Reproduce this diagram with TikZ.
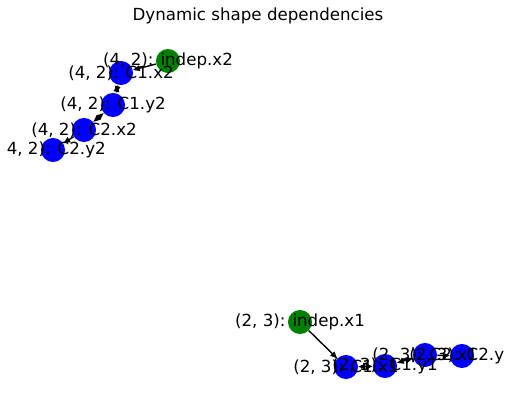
\documentclass[tikz,border=0pt]{standalone}
\usepackage{fontspec}
\setmainfont{DejaVu Sans}
\usetikzlibrary{arrows.meta}
\begin{document}
\begin{tikzpicture}[x=0.72pt,y=-0.72pt,
  vnode/.style={circle,minimum size=17.3pt,inner sep=0pt,fill=#1},
  lbl/.style={font=\fontsize{12}{14}\selectfont,inner sep=0pt,anchor=center},
  edge/.style={line width=1pt,-{Triangle[length=5pt,width=4pt]}},
  bedge/.style={line width=1pt,{Triangle[length=5pt,width=4pt]}-{Triangle[length=5pt,width=4pt]}},
]
\definecolor{mplgreen}{RGB}{0,128,0}
\definecolor{mplblue}{RGB}{0,0,255}
\useasboundingbox (0,0) rectangle (515,409);
\node[lbl] (title) at (258,16) {Dynamic shape dependencies};
\begin{scope}
\clip (7,28) rectangle (504,402);
% top cluster
\node[vnode=mplgreen] (i2) at (168,61) {};
\node[vnode=mplblue] (c1x2) at (121,73) {};
\node[vnode=mplblue] (c1y2) at (113,105) {};
\node[vnode=mplblue] (c2x2) at (84,130) {};
\node[vnode=mplblue] (c2y2) at (53,150) {};
% bottom cluster
\node[vnode=mplgreen] (i1) at (300,322) {};
\node[vnode=mplblue] (c1x1) at (346,367) {};
\node[vnode=mplblue] (c1y1) at (385,366) {};
\node[vnode=mplblue] (c2x1) at (425,355) {};
\node[vnode=mplblue] (c2y1) at (462,356) {};
% edges
\draw[edge] (i2) -- (c1x2);
\draw[bedge] (c1x2) -- (c1y2);
\draw[bedge] (c1y2) -- (c2x2);
\draw[edge] (c2x2) -- (c2y2);
\draw[edge] (i1) -- (c1x1);
\draw[bedge] (c1x1) -- (c1y1);
\draw[bedge] (c1y1) -- (c2x1);
\draw[edge] (c2x1) -- (c2y1);
% labels
\node[lbl] (li2) at (i2) {(4, 2): indep.x2};
\node[lbl] (lc1x2) at (c1x2) {(4, 2): C1.x2};
\node[lbl] (lc1y2) at (c1y2) {(4, 2): C1.y2};
\node[lbl] (lc2x2) at (c2x2) {(4, 2): C2.x2};
\node[lbl] (lc2y2) at (c2y2) {(4, 2): C2.y2};
\node[lbl] (li1) at (i1) {(2, 3): indep.x1};
\node[lbl] (lc1x1) at (c1x1) {(2, 3): C1.x1};
\node[lbl] (lc1y1) at (c1y1) {(2, 3): C1.y1};
\node[lbl] (lc2x1) at (c2x1) {(2, 3): C2.x1};
\node[lbl] (lc2y1) at (c2y1) {(2, 3): C2.y1};
\end{scope}
\end{tikzpicture}
\end{document}
